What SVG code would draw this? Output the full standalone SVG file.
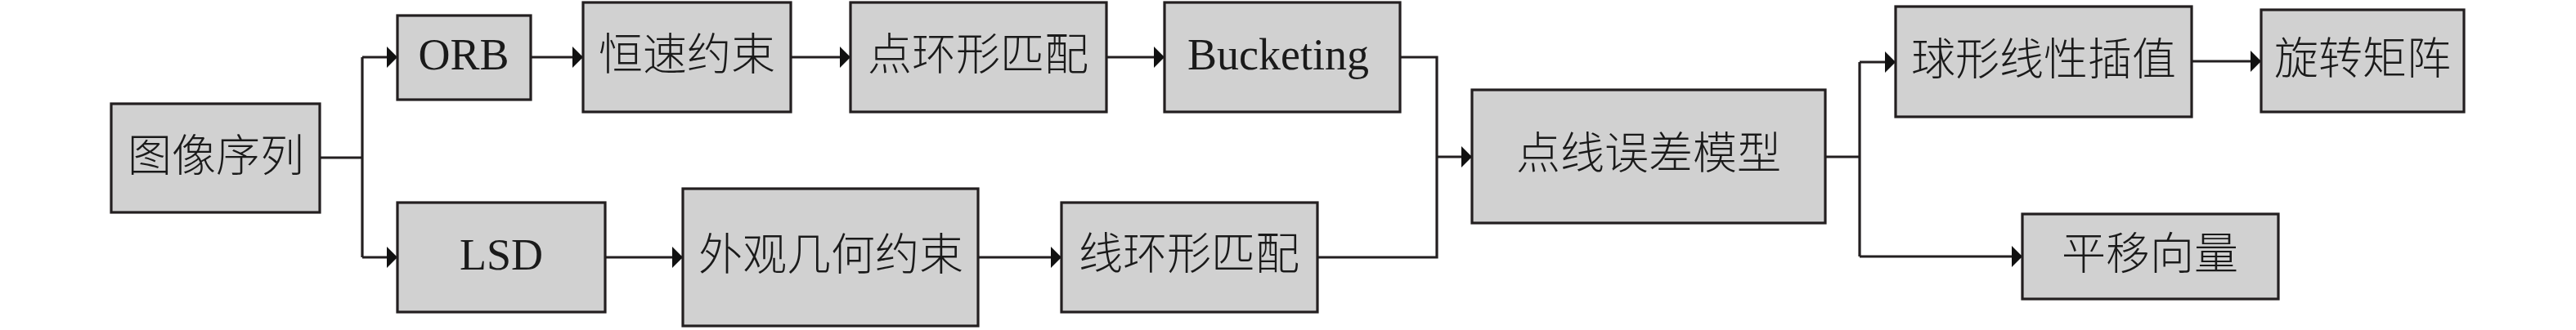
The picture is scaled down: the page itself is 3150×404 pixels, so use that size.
<svg xmlns="http://www.w3.org/2000/svg" width="3150" height="404" viewBox="0 0 3150 404">
<style>
.box{fill:#d1d1d1;stroke:#231f20;stroke-width:3.2}
.lbl{font-family:"Liberation Serif","Noto Sans CJK SC",serif;font-size:54px;fill:#1a1a1a;text-anchor:middle}
.cn{font-family:"Noto Sans CJK SC","Liberation Serif",sans-serif;font-size:54px;fill:#1a1a1a;text-anchor:middle;font-weight:300}
.ln{fill:none;stroke:#231f20;stroke-width:3.2;stroke-linejoin:miter}
</style>
<defs>
<marker id="ah" markerUnits="userSpaceOnUse" markerWidth="14" markerHeight="26" refX="13" refY="13" orient="auto">
<path d="M0,0 L13,13 L0,26 Z" fill="#111"/>
</marker>
</defs>
<g id="connectors">
<path class="ln" d="M391,193 H443"/>
<path class="ln" d="M443,70 V315"/>
<path class="ln" d="M443,70 H486" marker-end="url(#ah)"/>
<path class="ln" d="M443,315 H486" marker-end="url(#ah)"/>
<path class="ln" d="M649,70 H713" marker-end="url(#ah)"/>
<path class="ln" d="M967,70 H1040" marker-end="url(#ah)"/>
<path class="ln" d="M1353,70 H1424" marker-end="url(#ah)"/>
<path class="ln" d="M740,315 H835" marker-end="url(#ah)"/>
<path class="ln" d="M1196,315 H1298" marker-end="url(#ah)"/>
<path class="ln" d="M1712,70 H1757 V315 H1611"/>
<path class="ln" d="M1757,192 H1800" marker-end="url(#ah)"/>
<path class="ln" d="M2232,192 H2274"/>
<path class="ln" d="M2274,76 V314"/>
<path class="ln" d="M2274,76 H2318" marker-end="url(#ah)"/>
<path class="ln" d="M2274,314 H2473" marker-end="url(#ah)"/>
<path class="ln" d="M2680,75 H2765" marker-end="url(#ah)"/>
</g>
<g id="n_image"><rect class="box" x="136" y="127" width="255" height="133"/><text class="cn" x="264" y="210">图像序列</text></g>
<g id="n_orb"><rect class="box" x="486" y="19" width="163" height="103"/><text class="lbl" x="567" y="85">ORB</text></g>
<g id="n_const_vel"><rect class="box" x="713" y="3" width="254" height="134"/><text class="cn" x="840" y="86">恒速约束</text></g>
<g id="n_pt_ring"><rect class="box" x="1040" y="3" width="313" height="134"/><text class="cn" x="1196" y="86">点环形匹配</text></g>
<g id="n_bucket"><rect class="box" x="1424" y="3" width="288" height="134"/><text class="lbl" x="1563" y="85">Bucketing</text></g>
<g id="n_lsd"><rect class="box" x="486" y="248" width="254" height="134"/><text class="lbl" x="613" y="330">LSD</text></g>
<g id="n_appear"><rect class="box" x="835" y="231" width="361" height="168"/><text class="cn" x="1016" y="331">外观几何约束</text></g>
<g id="n_line_ring"><rect class="box" x="1298" y="248" width="313" height="134"/><text class="cn" x="1454" y="330">线环形匹配</text></g>
<g id="n_err"><rect class="box" x="1800" y="110" width="432" height="163"/><text class="cn" x="2016" y="207">点线误差模型</text></g>
<g id="n_slerp"><rect class="box" x="2318" y="8" width="362" height="135"/><text class="cn" x="2499" y="92">球形线性插值</text></g>
<g id="n_rot"><rect class="box" x="2765" y="12" width="248" height="125"/><text class="cn" x="2889" y="91">旋转矩阵</text></g>
<g id="n_trans"><rect class="box" x="2473" y="262" width="313" height="104"/><text class="cn" x="2629" y="330">平移向量</text></g>
</svg>
